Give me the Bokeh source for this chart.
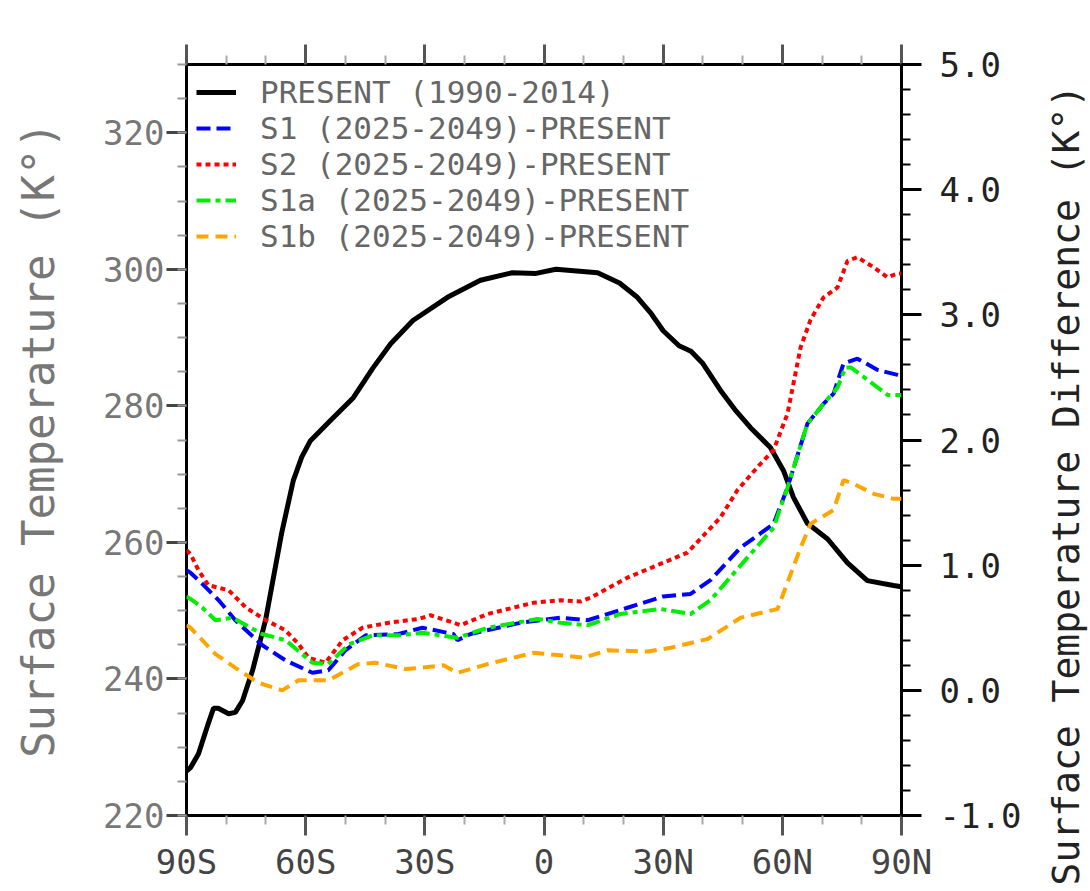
import math
from bokeh.plotting import figure
from bokeh.layouts import row
from bokeh.models import (LinearAxis, Range1d, FixedTicker, Legend, LegendItem,
                          NumeralTickFormatter, Title)
from bokeh.embed import file_html
from bokeh.resources import INLINE

# ---------------- data ----------------
present_lat = [-90, -89, -87, -84.5, -83.2, -82, -79.4, -77.7, -75.9, -73.4, -70.1, -66,
               -63.1, -61, -58.8, -53.7, -48, -43, -38.6, -33, -24.3, -16, -8, -2, 3,
               13.5, 19, 23.5, 27, 30, 34, 37, 40, 44.4, 48, 52, 57, 60.3, 62.8, 66.3,
               71.4, 76.4, 81.4, 88, 90]
present_temp = [226.5, 227, 229, 233.5, 235.7, 235.7, 234.9, 235.1, 236.8, 241.2, 248.6, 261.5,
                269.1, 272.5, 274.9, 277.9, 281.2, 285.6, 289.1, 292.5, 295.9, 298.4, 299.5, 299.4, 300.0,
                299.5, 298, 295.9, 293.5, 291, 288.8, 288, 286.2, 282.3, 279.5, 276.8, 273.9, 270.5, 266.6, 262.8,
                260.5, 257, 254.4, 253.7, 253.5]

s1_lat = [-90, -89, -86, -81.9, -77.7, -70.9, -65.1, -58.3, -54.3, -50, -44.9, -36.6, -30.6,
          -22.8, -21.8, -18.5, -5.9, 4.2, 11, 21, 30, 36.9, 41.9, 49.5, 57.8, 61.3, 66.3,
          70.4, 72.9, 75.4, 78.9, 84, 89, 90]
s1_diff = [0.96, 0.94, 0.85, 0.72, 0.56, 0.36, 0.24, 0.14, 0.16, 0.32, 0.44, 0.45, 0.50,
           0.45, 0.40, 0.45, 0.54, 0.58, 0.56, 0.66, 0.75, 0.77, 0.88, 1.14, 1.33, 1.62, 2.13,
           2.29, 2.37, 2.61, 2.65, 2.56, 2.52, 2.51]

s2_lat = [-90, -89, -87, -84.5, -82, -79.4, -75, -70, -65.1, -61.8, -59.3, -55, -50.7, -45.7,
          -39.1, -31.6, -28.6, -22.8, -21, -14.2, -2.6, 4.2, 9.2, 11.7, 21, 29.3, 36.1, 44.4,
          48.7, 54.5, 57.8, 61.3, 64.6, 67.1, 70.4, 73.9, 76.4, 78.9, 83, 86.5, 89, 90]
s2_diff = [1.12, 1.09, 0.96, 0.84, 0.82, 0.80, 0.66, 0.56, 0.48, 0.37, 0.26, 0.22, 0.40, 0.50,
           0.54, 0.57, 0.60, 0.54, 0.52, 0.61, 0.70, 0.72, 0.71, 0.74, 0.90, 1.01, 1.10, 1.38,
           1.60, 1.81, 1.92, 2.21, 2.74, 2.96, 3.14, 3.22, 3.43, 3.46, 3.38, 3.30, 3.33, 3.33]

s1a_lat = [-90, -89, -86, -82.7, -78.4, -71, -65, -58.3, -54.3, -49, -43, -36.6, -30.6, -21.8,
           -14.2, -1.6, 4.2, 11, 19.3, 29.3, 36.9, 41.9, 51.2, 57.8, 61.3, 66.3, 70.4, 73.9,
           75.9, 77.2, 81.5, 86.5, 90]
s1a_diff = [0.75, 0.73, 0.66, 0.56, 0.58, 0.45, 0.40, 0.22, 0.21, 0.37, 0.44, 0.44, 0.46, 0.42,
            0.50, 0.57, 0.54, 0.52, 0.61, 0.65, 0.61, 0.72, 1.06, 1.30, 1.62, 2.13, 2.29, 2.42,
            2.58, 2.58, 2.48, 2.36, 2.36]

s1b_lat = [-90, -89, -82.7, -77.7, -71.9, -65.9, -61.8, -54.3, -46.7, -42.4, -34.9, -31.1,
           -25.3, -21.8, -14.2, -2.6, 4.2, 10, 16, 26.1, 31.9, 41.2, 49.5, 58.8, 64.6, 67.1,
           72.9, 75.4, 77.9, 83, 88, 90]
s1b_diff = [0.52, 0.50, 0.29, 0.18, 0.06, 0.00, 0.08, 0.08, 0.21, 0.22, 0.17, 0.18,
            0.20, 0.14, 0.21, 0.30, 0.28, 0.26, 0.32, 0.31, 0.34, 0.41, 0.58, 0.65, 1.14, 1.33,
            1.44, 1.68, 1.65, 1.57, 1.53, 1.53]

x_ticks = [-90, -60, -30, 0, 30, 60, 90]
x_tick_labels = ["90S", "60S", "30S", "0", "30N", "60N", "90N"]
x_minor = [-80, -70, -50, -40, -20, -10, 10, 20, 40, 50, 70, 80]
t_ticks = [220, 240, 260, 280, 300, 320]
d_ticks = [-1, 0, 1, 2, 3, 4, 5]

labels = ["PRESENT (1990-2014)", "S1 (2025-2049)-PRESENT", "S2 (2025-2049)-PRESENT",
          "S1a (2025-2049)-PRESENT", "S1b (2025-2049)-PRESENT"]
left_title = "Surface Temperature (K°)"
right_title = "Surface Temperature Difference (K°)"

FONT = "DejaVu Sans Mono"
TOP, FRAME_H, BOTTOM = 64, 751, 74
RIGHT_BORDER = 140
TITLE_W = 48

p = figure(frame_width=715, frame_height=FRAME_H, title=None,
           x_range=Range1d(-90, 90), y_range=Range1d(220, 330),
           output_backend="svg", toolbar_location=None,
           min_border_left=186, min_border_right=RIGHT_BORDER, min_border_top=TOP,
           min_border_bottom=BOTTOM)
p.extra_y_ranges = {"diff": Range1d(-1, 5)}
p.xgrid.visible = False
p.ygrid.visible = False
p.outline_line_color = "black"
p.outline_line_width = 3
p.background_fill_color = "white"
p.border_fill_color = "white"

xticker = FixedTicker(ticks=x_ticks, minor_ticks=x_minor)


def style(ax, major_col, minor_col, lab_col, size="34px"):
    ax.axis_line_color = None
    ax.major_tick_in = 0
    ax.minor_tick_in = 0
    ax.major_tick_out = 20
    ax.minor_tick_out = 9
    ax.major_tick_line_color = major_col
    ax.major_tick_line_width = 3
    ax.minor_tick_line_color = minor_col
    ax.minor_tick_line_width = 2
    ax.major_label_text_font = FONT
    ax.major_label_text_font_size = size
    ax.major_label_text_color = lab_col


# bottom axis
xb = p.xaxis[0]
xb.ticker = xticker
xb.major_label_overrides = {v: s for v, s in zip(x_ticks, x_tick_labels)}
style(xb, "#555555", "#aaaaaa", "#444444")
xb.major_label_standoff = 6

# top axis (ticks only)
xt = LinearAxis(ticker=xticker)
style(xt, "#555555", "#aaaaaa", "#444444", size="0px")
xt.major_label_text_alpha = 0
xt.major_label_standoff = 0
p.add_layout(xt, "above")

# left axis
yl = p.yaxis[0]
yl.ticker = FixedTicker(ticks=t_ticks, minor_ticks=list(range(220, 331, 5)))
style(yl, "#444444", "#999999", "#777777")
yl.major_label_standoff = 2
yl.axis_label = left_title
yl.axis_label_text_font = FONT
yl.axis_label_text_font_size = "44px"
yl.axis_label_text_font_style = "normal"
yl.axis_label_text_color = "#777777"
yl.axis_label_standoff = 36

# right axis
yr = LinearAxis(y_range_name="diff",
                ticker=FixedTicker(ticks=d_ticks, minor_ticks=[-1 + 0.2 * i for i in range(31)]),
                formatter=NumeralTickFormatter(format="0.0"))
style(yr, "black", "black", "#222222")
yr.major_label_standoff = 18
p.add_layout(yr, "right")

# lines
r0 = p.line(present_lat, present_temp, line_color="black", line_width=5)
r1 = p.line(s1_lat, s1_diff, y_range_name="diff", line_color="#0000ff", line_width=4,
            line_dash="14 6")
r2 = p.line(s2_lat, s2_diff, y_range_name="diff", line_color="#ff0000", line_width=4,
            line_dash="5 4")
r3 = p.line(s1a_lat, s1a_diff, y_range_name="diff", line_color="#00ee00", line_width=4,
            line_dash="14 5 5 5")
r4 = p.line(s1b_lat, s1b_diff, y_range_name="diff", line_color="#ffa500", line_width=4,
            line_dash="12 7")

legend = Legend(items=[LegendItem(label=l, renderers=[r]) for l, r in
                       zip(labels, [r0, r1, r2, r3, r4])],
                location="top_left")
legend.border_line_color = None
legend.background_fill_alpha = 0
legend.margin = 10
legend.padding = 21
legend.spacing = 0
legend.glyph_width = 40
legend.glyph_height = 20
legend.label_standoff = 24
legend.label_text_font = FONT
legend.label_text_font_size = "31px"
legend.label_text_color = "#666666"
legend.label_height = 20
p.add_layout(legend)

# right-hand title panel: a side title reading bottom-to-top
q = figure(width=TITLE_W, height=TOP + FRAME_H + BOTTOM, title=None,
           x_range=Range1d(0, 1), y_range=Range1d(0, 1),
           output_backend="svg", toolbar_location=None,
           x_axis_location=None, y_axis_location=None,
           min_border_left=0, min_border_right=0, min_border_top=TOP, min_border_bottom=BOTTOM)
q.xgrid.visible = False
q.ygrid.visible = False
q.outline_line_color = None
q.background_fill_color = "white"
q.border_fill_color = "white"
q.add_layout(Title(text=right_title, align="left", offset=-70, standoff=0,
                   text_font=FONT, text_font_size="38px", text_font_style="normal",
                   text_color="#222222"), "left")

layout = row(p, q, spacing=0)
open("out.html", "w").write(file_html(layout, INLINE))
